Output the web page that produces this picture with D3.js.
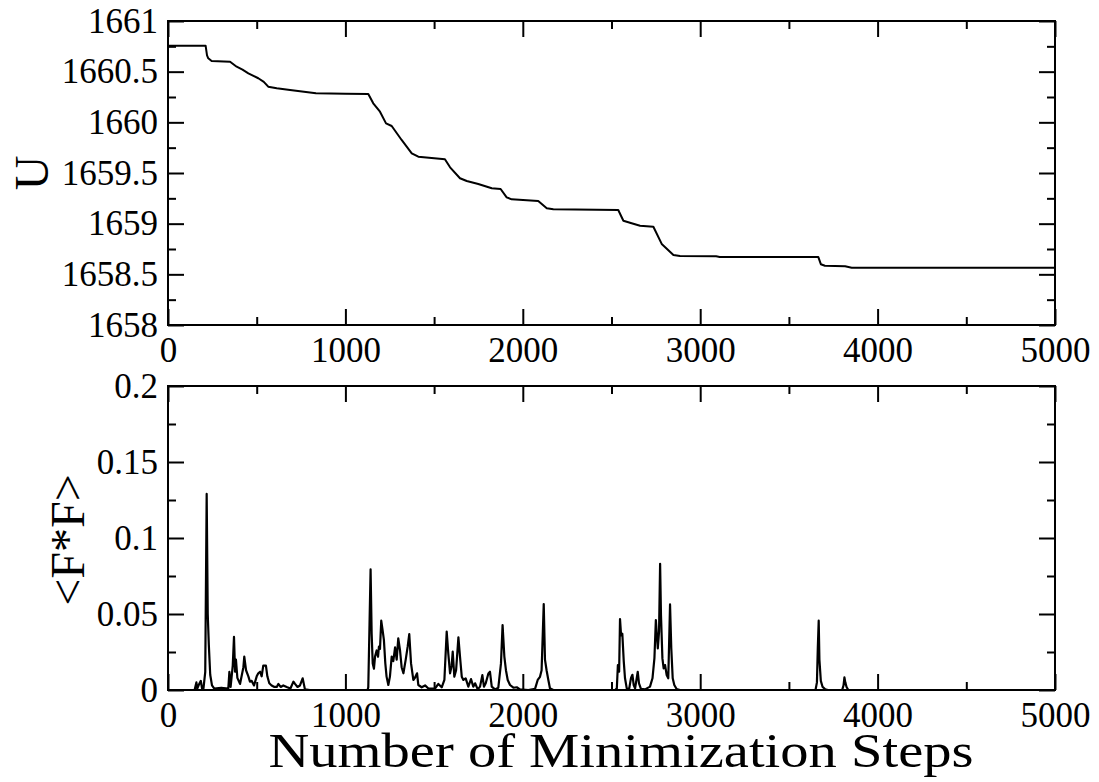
<!DOCTYPE html>
<html>
<head>
<meta charset="utf-8">
<script src="https://cdn.jsdelivr.net/npm/d3@7"></script>
<style>
  html, body { margin: 0; padding: 0; background: #fff; }
  svg text { font-family: "Liberation Serif", "Times New Roman", serif; fill: #000; }
</style>
</head>
<body>
<svg id="chart" width="1099" height="782"></svg>
<script>
// Potential energy U along the minimization run
const uSteps = [0, 212, 220, 227, 246, 350, 387, 420, 453, 509, 540, 565, 613, 688, 834, 1000,
  1129, 1157, 1195, 1229, 1261, 1317, 1374, 1411, 1486, 1561, 1590, 1646, 1684, 1749, 1825,
  1875, 1909, 1937, 2087, 2135, 2172, 2538, 2567, 2604, 2661, 2736, 2783, 2849, 2886, 3090,
  3110, 3666, 3680, 3703, 3817, 3854, 5000];
const uValues = [1660.756, 1660.756, 1660.66, 1660.632, 1660.605, 1660.598, 1660.549, 1660.52,
  1660.484, 1660.435, 1660.40, 1660.352, 1660.336, 1660.319, 1660.286, 1660.282,
  1660.280, 1660.188, 1660.105, 1659.990, 1659.964, 1659.826, 1659.694, 1659.661, 1659.648,
  1659.635, 1659.556, 1659.448, 1659.421, 1659.391, 1659.349, 1659.342, 1659.260, 1659.240,
  1659.224, 1659.152, 1659.142, 1659.135, 1659.029, 1659.009, 1658.980, 1658.970, 1658.800,
  1658.691, 1658.680, 1658.678, 1658.672, 1658.670, 1658.600, 1658.585, 1658.580, 1658.565,
  1658.565];

// Mean squared force <F*F> along the same run
const fSteps = [0, 150, 160, 165, 176, 185, 192, 200, 210, 218, 224, 230, 238, 248, 260, 300, 340,
  346, 353, 365, 372, 378, 383, 391, 406, 425, 430, 440, 453, 462, 472, 485, 500, 509, 519, 528,
  537, 552, 560, 571, 584, 600, 613, 622, 635, 650, 669, 690, 707, 716, 730, 744, 759, 772, 800,
  1125, 1129, 1142, 1148, 1154, 1161, 1167, 1176, 1184, 1189, 1195, 1202, 1210, 1217, 1225, 1232,
  1242, 1251, 1261, 1270, 1280, 1289, 1298, 1308, 1317, 1327, 1340, 1351, 1360, 1370, 1383, 1392,
  1404, 1411, 1430, 1449, 1468, 1486, 1505, 1524, 1543, 1558, 1571, 1580, 1590, 1599, 1605, 1614,
  1624, 1637, 1646, 1656, 1665, 1678, 1693, 1708, 1721, 1731, 1746, 1759, 1772, 1781, 1791, 1806,
  1815, 1825, 1843, 1862, 1877, 1886, 1896, 1905, 1915, 1928, 1947, 1966, 1984, 2031, 2069, 2084,
  2097, 2106, 2118, 2125, 2134, 2144, 2153, 2172,
  2521, 2530, 2536, 2543, 2548, 2554, 2561, 2569, 2576, 2586, 2599, 2610, 2618, 2625, 2633, 2648,
  2655, 2666, 2689, 2717, 2731, 2742, 2750, 2761, 2768, 2774, 2779, 2787, 2794, 2802, 2811, 2820,
  2830, 2837, 2845, 2854, 2867, 2886,
  3650, 3658, 3663, 3668, 3672, 3680, 3690, 3705, 3720, 3800, 3808, 3813, 3818, 3825, 3835, 5000];
const fValues = [0, 0, 0.005, 0.001, 0.004, 0.006, 0.001, 0.001, 0.012, 0.129, 0.05, 0.03, 0.01,
  0.003, 0.001, 0.0015, 0.001,
  0.012, 0.002, 0.016, 0.035, 0.012, 0.02, 0.008, 0.004, 0.015, 0.022, 0.013, 0.009, 0.0055, 0.006,
  0.003, 0.009, 0.011, 0.012, 0.009, 0.016, 0.016, 0.009, 0.0044, 0.003, 0.002, 0.002, 0.004, 0.002,
  0.003, 0.002, 0.001, 0.0055, 0.004, 0.002, 0.003, 0.0077, 0.0004, 0,
  0, 0.0018, 0.0793, 0.037, 0.0175, 0.014, 0.022, 0.026, 0.0219, 0.0285, 0.027, 0.0456, 0.039,
  0.033, 0.0175, 0.0088, 0.0033, 0.0088, 0.022, 0.019, 0.028, 0.02, 0.034, 0.026, 0.015, 0.011,
  0.020, 0.0285, 0.0368, 0.0175, 0.0066, 0.008, 0.011, 0.0033, 0.0018, 0.003, 0.001, 0.001, 0.001,
  0.004, 0.0018, 0.0066, 0.0384, 0.024, 0.011, 0.016, 0.0252, 0.0087, 0.013, 0.0346, 0.022, 0.0087,
  0.0066, 0.0077, 0.0022, 0.0072, 0.0022, 0.0044, 0.0004, 0.0022, 0.0098, 0.0022, 0.0044, 0.0109,
  0.012, 0.0022, 0.0004, 0.0015, 0.0175, 0.0427, 0.022, 0.013, 0.0066, 0.0033, 0.0015, 0.0018,
  0.0004, 0, 0.0007, 0.0066, 0.0087, 0.013, 0.0565, 0.020, 0.013, 0.0066, 0.0011, 0,
  0, 0.0011, 0.0164, 0.012, 0.0467, 0.036, 0.037, 0.019, 0.0079, 0.0011, 0.0004, 0.0079, 0.010,
  0.0033, 0.0011, 0.012, 0.0044, 0.0007, 0.0004, 0.0022, 0.0077, 0.021, 0.046, 0.0274, 0.0383,
  0.083, 0.049, 0.0208, 0.0142, 0.0164, 0.0099, 0.0077, 0.0563, 0.0274, 0.0077, 0.0033, 0.0007, 0,
  0, 0.005, 0.028, 0.0456, 0.02, 0.006, 0.002, 0.0005, 0, 0, 0.003, 0.0083, 0.005, 0.002, 0, 0];

// Axis ticks
const xMajor = [0, 1000, 2000, 3000, 4000, 5000];
const xMinor = [500, 1500, 2500, 3500, 4500];
const uMajor = [1658, 1658.5, 1659, 1659.5, 1660, 1660.5, 1661];
const uMinor = [1658.25, 1658.75, 1659.25, 1659.75, 1660.25, 1660.75];
const fMajor = [0, 0.05, 0.1, 0.15, 0.2];
const fMinor = [0.025, 0.075, 0.125, 0.175];

const SERIF = '"Liberation Serif", "Times New Roman", serif';
const svg = d3.select("#chart");
const left = 168, right = 1055;
const x = d3.scaleLinear().domain([0, 5000]).range([left, right]);
const yU = d3.scaleLinear().domain([1658, 1661]).range([325, 21]);
const yF = d3.scaleLinear().domain([0, 0.2]).range([690, 386]);

const MAJ = 16, MIN = 8, FS = 35;

const styleAxis = sel => {
  sel.attr("font-family", SERIF).attr("font-size", FS);
  sel.select(".domain").remove();
  sel.selectAll("line").attr("stroke", "#000").attr("stroke-width", 2);
  sel.selectAll("text").style("font-family", SERIF).style("font-size", FS + "px");
};

function panel(y, major, minor, fmt) {
  const [y0, y1] = y.range();
  const g = svg.append("g");

  // bottom axis with labels
  g.append("g").attr("transform", `translate(0,${y0})`)
    .call(d3.axisBottom(x).tickValues(xMajor).tickSize(-MAJ).tickPadding(12)
      .tickFormat(d3.format("d")))
    .call(styleAxis);
  g.append("g").attr("transform", `translate(0,${y0})`)
    .call(d3.axisBottom(x).tickValues(xMinor).tickSize(-MIN).tickFormat(""))
    .call(styleAxis);
  // top axis, ticks only
  g.append("g").attr("transform", `translate(0,${y1})`)
    .call(d3.axisTop(x).tickValues(xMajor).tickSize(-MAJ).tickFormat(""))
    .call(styleAxis);
  g.append("g").attr("transform", `translate(0,${y1})`)
    .call(d3.axisTop(x).tickValues(xMinor).tickSize(-MIN).tickFormat(""))
    .call(styleAxis);
  // left axis with labels
  g.append("g").attr("transform", `translate(${left},0)`)
    .call(d3.axisLeft(y).tickValues(major).tickSize(-MAJ).tickPadding(10).tickFormat(fmt))
    .call(styleAxis);
  g.append("g").attr("transform", `translate(${left},0)`)
    .call(d3.axisLeft(y).tickValues(minor).tickSize(-MIN).tickFormat(""))
    .call(styleAxis);
  // right axis, ticks only
  g.append("g").attr("transform", `translate(${right},0)`)
    .call(d3.axisRight(y).tickValues(major).tickSize(-MAJ).tickFormat(""))
    .call(styleAxis);
  g.append("g").attr("transform", `translate(${right},0)`)
    .call(d3.axisRight(y).tickValues(minor).tickSize(-MIN).tickFormat(""))
    .call(styleAxis);

  // frame
  g.append("rect")
    .attr("x", left).attr("y", y1)
    .attr("width", right - left).attr("height", y0 - y1)
    .attr("fill", "none").attr("stroke", "#000").attr("stroke-width", 2);
  return g;
}

// Top panel: U
panel(yU, uMajor, uMinor, d => String(d));
const uData = uSteps.map((s, i) => [s, uValues[i]]);
svg.append("path")
  .datum(uData)
  .attr("fill", "none").attr("stroke", "#000").attr("stroke-width", 2)
  .attr("stroke-linejoin", "round")
  .attr("d", d3.line().x(d => x(d[0])).y(d => yU(d[1])));

// Bottom panel: <F*F>
panel(yF, fMajor, fMinor, d => String(d));
const fData = fSteps.map((s, i) => [s, fValues[i]]);
svg.append("path")
  .datum(fData)
  .attr("fill", "none").attr("stroke", "#000").attr("stroke-width", 2.2)
  .attr("stroke-linejoin", "round")
  .attr("d", d3.line().x(d => x(d[0])).y(d => yF(d[1])));

// Axis titles
svg.append("text")
  .attr("transform", "translate(48,173) rotate(-90)")
  .attr("text-anchor", "middle")
  .style("font-size", "48px")
  .text("U");
svg.append("text")
  .attr("transform", "translate(84,540) rotate(-90)")
  .attr("text-anchor", "middle")
  .style("font-size", "48px")
  .text("<F*F>");
svg.append("text")
  .attr("x", 621).attr("y", 767)
  .attr("text-anchor", "middle")
  .attr("textLength", 705)
  .attr("lengthAdjust", "spacingAndGlyphs")
  .style("font-size", "48px")
  .text("Number of Minimization Steps");
</script>
</body>
</html>
